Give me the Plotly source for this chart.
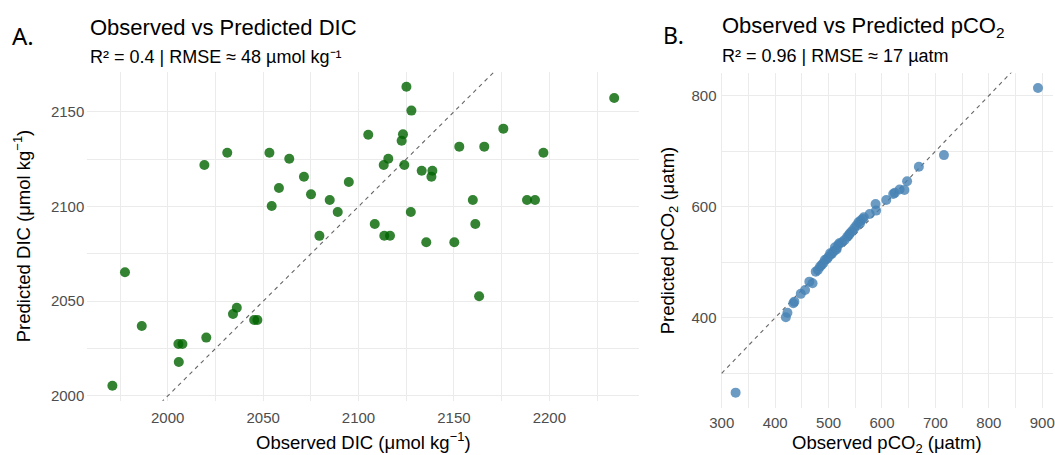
import plotly.graph_objects as go

# ---------------- data ----------------
obs_dic = [1971.0, 1977.6, 1986.4, 2005.6, 2007.7, 2005.8, 2020.2, 2034.2, 2036.2, 2045.3,
           2047.0, 2019.2, 2031.2, 2053.3, 2063.7, 2071.4, 2058.3, 2075.1, 2054.5, 2079.5,
           2125.1, 2127.7, 2105.1, 2123.3, 2122.6, 2175.9, 2152.8, 2165.9, 2196.9, 2115.6,
           2113.2, 2124.0, 2133.1, 2138.7, 2138.2, 2094.9, 2084.9, 2089.1, 2127.4, 2108.5,
           2159.9, 2161.2, 2188.3, 2192.5, 2113.5, 2116.5, 2135.5, 2150.2, 2163.2, 2234.0]
pred_dic = [2005.4, 2065.3, 2036.9, 2027.4, 2027.4, 2017.9, 2030.8, 2043.3, 2046.6, 2040.1,
            2040.1, 2121.9, 2128.4, 2128.4, 2125.2, 2115.7, 2109.8, 2106.4, 2100.3, 2084.5,
            2163.2, 2150.6, 2137.9, 2138.1, 2134.7, 2141.1, 2131.6, 2131.6, 2128.4, 2125.2,
            2121.9, 2121.9, 2118.9, 2118.9, 2115.7, 2112.9, 2103.4, 2097.1, 2097.1, 2090.8,
            2103.4, 2090.8, 2103.4, 2103.4, 2084.6, 2084.6, 2081.1, 2081.1, 2052.6, 2157.3]

obs_pco2 = [326, 420, 423, 434, 436, 448, 456, 464, 470, 476, 480, 484, 487, 490, 493, 497,
            500, 503, 506, 510, 512, 515, 518, 520, 525, 530, 535, 538, 540, 544, 548, 552,
            556, 559, 560, 564, 566, 577, 589, 588, 608, 621, 624, 633, 642, 647, 669, 716, 892]
pred_pco2 = [265, 401, 409, 426, 429, 443, 450, 465, 462, 483, 486, 492, 495, 498, 504, 506,
             510, 516, 515, 520, 527, 523, 531, 534, 536, 540, 546, 549, 552, 556, 561, 566,
             572, 570, 575, 578, 581, 587, 593, 605, 612, 623, 625, 631, 630, 646, 672, 693, 814]

dic_xticks = [2000, 2050, 2100, 2150, 2200]
dic_yticks = [2000, 2050, 2100, 2150]
pco2_xticks = [300, 400, 500, 600, 700, 800, 900]
pco2_yticks = [400, 600, 800]

# ---------------- helpers ----------------
W, H = 1055, 455
FONT = "Liberation Sans, Arial, Helvetica, sans-serif"


def expand(vals, frac=0.05):
    lo, hi = min(vals), max(vals)
    pad = (hi - lo) * frac
    return [lo - pad, hi + pad]


def fx(px):
    return px / W


def fy(py):
    return 1 - py / H


xr_a = expand(obs_dic)
yr_a = expand(pred_dic)
xr_b = expand(obs_pco2)
yr_b = expand(pred_pco2)

GRID = "#EBEBEB"
TICKC = "#4D4D4D"

fig = go.Figure()

# 1:1 reference lines (clipped to the panel)
lo_a, hi_a = min(xr_a[0], yr_a[0]), max(xr_a[1], yr_a[1])
fig.add_trace(go.Scatter(x=[lo_a, hi_a], y=[lo_a, hi_a], mode="lines",
                         line=dict(color="#666666", width=1.1, dash="4px,4px"),
                         xaxis="x", yaxis="y", hoverinfo="skip", showlegend=False))
lo_b, hi_b = min(xr_b[0], yr_b[0]), max(xr_b[1], yr_b[1])
fig.add_trace(go.Scatter(x=[lo_b, hi_b], y=[lo_b, hi_b], mode="lines",
                         line=dict(color="#666666", width=1.1, dash="4px,4px"),
                         xaxis="x2", yaxis="y2", hoverinfo="skip", showlegend=False))

fig.add_trace(go.Scatter(x=obs_dic, y=pred_dic, mode="markers",
                         marker=dict(color="#006400", size=10, opacity=0.8, line=dict(width=0)),
                         xaxis="x", yaxis="y", showlegend=False))
fig.add_trace(go.Scatter(x=obs_pco2, y=pred_pco2, mode="markers",
                         marker=dict(color="#4682B4", size=10, opacity=0.8, line=dict(width=0)),
                         xaxis="x2", yaxis="y2", showlegend=False))


def axis(domain, rng, ticks, minor_step, anchor, standoff):
    return dict(domain=domain, range=rng, tickmode="array", tickvals=ticks,
                ticktext=[str(t) for t in ticks],
                showgrid=True, gridcolor=GRID, gridwidth=1.1, zeroline=False,
                showline=False, ticks="", anchor=anchor, ticklabelstandoff=standoff,
                tickfont=dict(family=FONT, size=15, color=TICKC),
                minor=dict(tickmode="linear", tick0=ticks[0] - minor_step, dtick=minor_step * 2,
                           showgrid=True, gridcolor=GRID, gridwidth=0.55, ticks=""))


xdom_a = [fx(87.3), fx(639.3)]
ydom_a = [fy(400.7), fy(71.8)]
xdom_b = [fx(720.5), fx(1053.1)]
ydom_b = [fy(407.9), fy(72.7)]

fig.update_layout(
    width=W, height=H,
    margin=dict(l=0, r=0, t=0, b=0, autoexpand=False),
    paper_bgcolor="white", plot_bgcolor="white",
    font=dict(family=FONT, color="black"),
    xaxis=axis(xdom_a, xr_a, dic_xticks, 25, "y", 6),
    yaxis=axis(ydom_a, yr_a, dic_yticks, 25, "x", 2),
    xaxis2=axis(xdom_b, xr_b, pco2_xticks, 50, "y2", 4),
    yaxis2=axis(ydom_b, yr_b, pco2_yticks, 100, "x2", 3),
)

ann = []


def text(s, x, y, size, xanchor="left", yanchor="middle", angle=0, color="black", family=FONT):
    ann.append(dict(text=s, x=fx(x), y=fy(y), xref="paper", yref="paper", showarrow=False,
                    xanchor=xanchor, yanchor=yanchor, textangle=angle,
                    font=dict(family=family, size=size, color=color)))


# panel letters
text("A.", 10, 36, 24, family="Noto Sans, Liberation Sans, sans-serif")
text("B.", 661, 35, 23, family="Noto Sans, Liberation Sans, sans-serif")
# titles and subtitles
text("Observed vs Predicted DIC", 88, 27, 22)
text("R² = 0.4 | RMSE ≈ 48 µmol kg⁻¹", 88, 57, 18)
text("Observed vs Predicted pCO<sub>2</sub>", 720, 27, 22)
text("R² = 0.96 | RMSE ≈ 17 µatm", 720, 56, 18)
# axis titles
text("Observed DIC (μmol kg<sup>−1</sup>)", (87.3 + 639.3) / 2, 441, 18.5, xanchor="center")
text("Predicted DIC (μmol kg<sup>−1</sup>)", 22, (71.8 + 400.7) / 2, 18.5, xanchor="center", angle=-90)
text("Observed pCO<sub>2</sub> (μatm)", (720.5 + 1053.1) / 2, 443.5, 18.5, xanchor="center")
text("Predicted pCO<sub>2</sub> (μatm)", 669, (72.7 + 407.9) / 2, 18.5, xanchor="center", angle=-90)

fig.update_layout(annotations=ann)

fig.write_html("out.html")
